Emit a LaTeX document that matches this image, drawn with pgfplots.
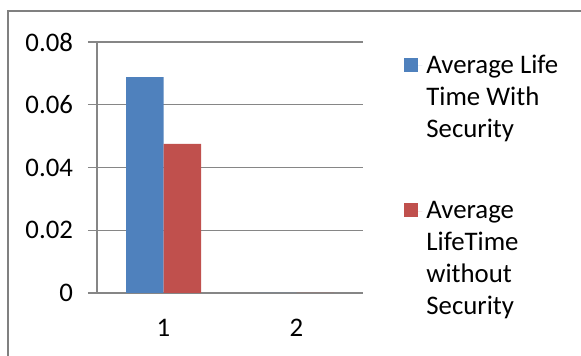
\documentclass[border=0pt]{standalone}
\usepackage{fontspec}
\setmainfont{Carlito}
\usepackage{pgfplots}
\pgfplotsset{compat=1.18}
\definecolor{xblue}{RGB}{79,129,189}
\definecolor{xred}{RGB}{192,80,77}
\definecolor{xgrid}{RGB}{134,134,134}
\definecolor{xframe}{RGB}{128,128,128}
\begin{document}
\begin{tikzpicture}
\useasboundingbox (-48.5pt,-31.5pt) rectangle (242pt,146.5pt);
\draw[xframe, line width=0.8pt] (-44.5pt,-40pt) -- (-44.5pt,141pt) -- (250pt,141pt);
\begin{axis}[
  scale only axis,
  width=133pt, height=125.5pt,
  font=\fontsize{13.4}{16}\selectfont,
  ybar=0pt, bar width=18.75pt,
  xmin=0.5, xmax=2.5,
  ymin=0, ymax=0.08,
  scaled y ticks=false,
  axis lines=left,
  axis line style={-, xgrid, line width=0.6pt},
  tick align=outside,
  xtick={1,2}, xticklabels={1,2},
  major x tick style={draw=none},
  extra x ticks={0.5,1.5,2.5},
  extra x tick labels={},
  extra x tick style={major tick length=5pt, tick style={xgrid, line width=0.6pt}, grid=none},
  ytick={0,0.02,0.04,0.06,0.08},
  yticklabels={0,0.02,0.04,0.06,0.08},
  major tick length=4.5pt,
  ytick style={xgrid, line width=0.6pt},
  ymajorgrids,
  grid style={xgrid, line width=0.6pt},
  /pgf/number format/assume math mode=true,
  yticklabel style={xshift=-4pt},
  xticklabel style={yshift=-5pt},
  legend style={at={(1.154,0.966)}, anchor=north west, draw=none, fill=none,
    inner sep=0pt, row sep=26.5pt, font=\fontsize{13.4}{16}\selectfont,
    cells={align=left, anchor=west}},
]
\addplot[fill=xblue, draw=none,
  legend image code/.code={\fill[xblue] (0pt,13pt) rectangle (7pt,20pt); \path (0pt,16pt) -- (9pt,16pt);}]
  coordinates {(1,0.0688) (2,0)};
\addlegendentry{Average Life\\Time With\\Security}
\addplot[fill=xred, draw=none,
  legend image code/.code={\fill[xred] (0pt,21pt) rectangle (7pt,28pt); \path (0pt,24pt) -- (9pt,24pt);}]
  coordinates {(1,0.0475) (2,0)};
\addlegendentry{Average\\LifeTime\\without\\Security}
\end{axis}
\end{tikzpicture}
\end{document}
